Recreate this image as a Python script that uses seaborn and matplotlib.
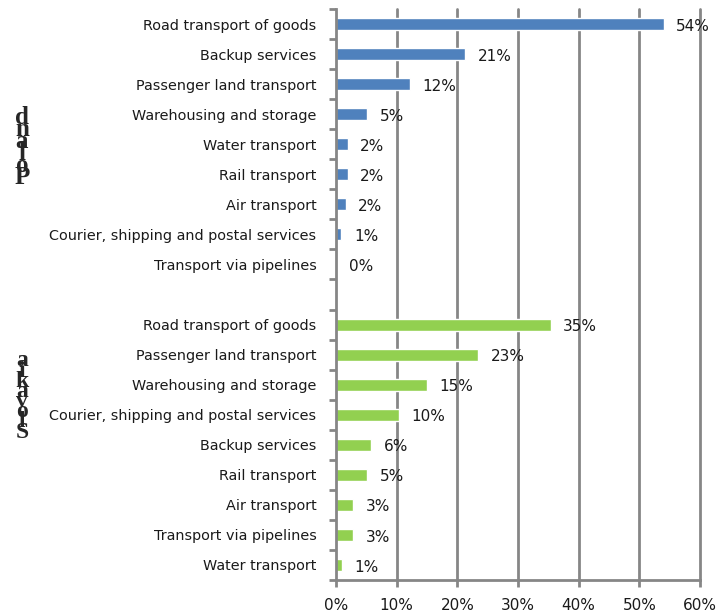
import matplotlib
matplotlib.use("Agg")
import matplotlib.pyplot as plt
import seaborn as sns
import pandas as pd
import numpy as np

# Share of enterprises by transport sub-sector (%)
poland_sectors = [
    "Road transport of goods",
    "Backup services",
    "Passenger land transport",
    "Warehousing and storage",
    "Water transport",
    "Rail transport",
    "Air transport",
    "Courier, shipping and postal services",
    "Transport via pipelines",
]
poland_share = [54.0, 21.3, 12.2, 5.1, 1.9, 1.9, 1.6, 0.9, 0.0]

slovakia_sectors = [
    "Road transport of goods",
    "Passenger land transport",
    "Warehousing and storage",
    "Courier, shipping and postal services",
    "Backup services",
    "Rail transport",
    "Air transport",
    "Transport via pipelines",
    "Water transport",
]
slovakia_share = [35.4, 23.4, 15.0, 10.4, 5.8, 5.1, 2.8, 2.8, 1.0]

countries = ["Poland", "Slovakia"]
colors = {"Poland": "#4F81BD", "Slovakia": "#92D050"}
x_ticks = [0, 10, 20, 30, 40, 50, 60]

# unique row keys so the same sector name can appear in both groups
rows = []
for name, val in zip(poland_sectors, poland_share):
    rows.append(("P:" + name, name, val, "Poland"))
for name, val in zip(slovakia_sectors, slovakia_share):
    rows.append(("S:" + name, name, val, "Slovakia"))
df = pd.DataFrame(rows, columns=["key", "sector", "share", "country"])

order = ["P:" + n for n in poland_sectors] + ["gap"] + ["S:" + n for n in slovakia_sectors]
labels = poland_sectors + [""] + slovakia_sectors

sns.set_style("white")
plt.rcParams["font.family"] = ["DejaVu Sans"]

W, H = 717, 613
fig = plt.figure(figsize=(W / 100, H / 100), dpi=100)
ax = fig.add_axes([336 / W, 1 - 580 / H, (700 - 336) / W, (580 - 9) / H])

sns.barplot(data=df, x="share", y="key", hue="country", order=order,
            hue_order=countries, palette=colors, dodge=False, width=0.4,
            orient="h", legend=False, ax=ax, saturation=1)

grid_col = "#868686"
text_col = "#1a1a1a"
ax.set_xlim(0, 60)
ax.set_ylim(len(order) - 0.5, -0.5)
ax.set_xticks(x_ticks)
ax.set_xticklabels([f"{t}%" for t in x_ticks], fontsize=11, color=text_col)
ax.set_yticks(range(len(order)))
ax.set_yticklabels(labels, fontsize=10.4, color=text_col)
ax.set_yticks(np.arange(-0.5, len(order), 1), minor=True)
ax.set_xlabel("")
ax.set_ylabel("")

for t in x_ticks[1:]:
    ax.axvline(t, color=grid_col, lw=2, zorder=0, clip_on=False)

for s in ["top", "right"]:
    ax.spines[s].set_visible(False)
for s in ["left", "bottom"]:
    ax.spines[s].set_color(grid_col)
    ax.spines[s].set_linewidth(2)

ax.tick_params(axis="y", which="major", length=0, pad=14)
ax.tick_params(axis="y", which="minor", length=5, width=2, color=grid_col, left=True)
ax.tick_params(axis="x", which="major", length=5, width=2, color=grid_col,
               bottom=True, pad=8)

# value labels next to each bar
pos = {k: i for i, k in enumerate(order)}
for _, r in df.iterrows():
    ax.annotate(f"{r['share']:.0f}%", xy=(r["share"], pos[r["key"]]),
                xytext=(9, -1.5), textcoords="offset points",
                ha="left", va="center", fontsize=11, color=text_col)

# group labels drawn as upright letters stacked bottom-to-top
def stacked(word, y_top, y_bottom, x, size):
    letters = list(reversed(word))
    ys = np.linspace(y_top, y_bottom, len(letters))
    for ch, y in zip(letters, ys):
        fig.text(x / W, 1 - y / H, ch, ha="center", va="center",
                 fontsize=size, fontweight="bold", family="Liberation Serif")

stacked("Poland", 118, 177, 22, 18)
stacked("Slovakia", 361, 432, 22, 17)

fig.savefig("out.png", dpi=100)
